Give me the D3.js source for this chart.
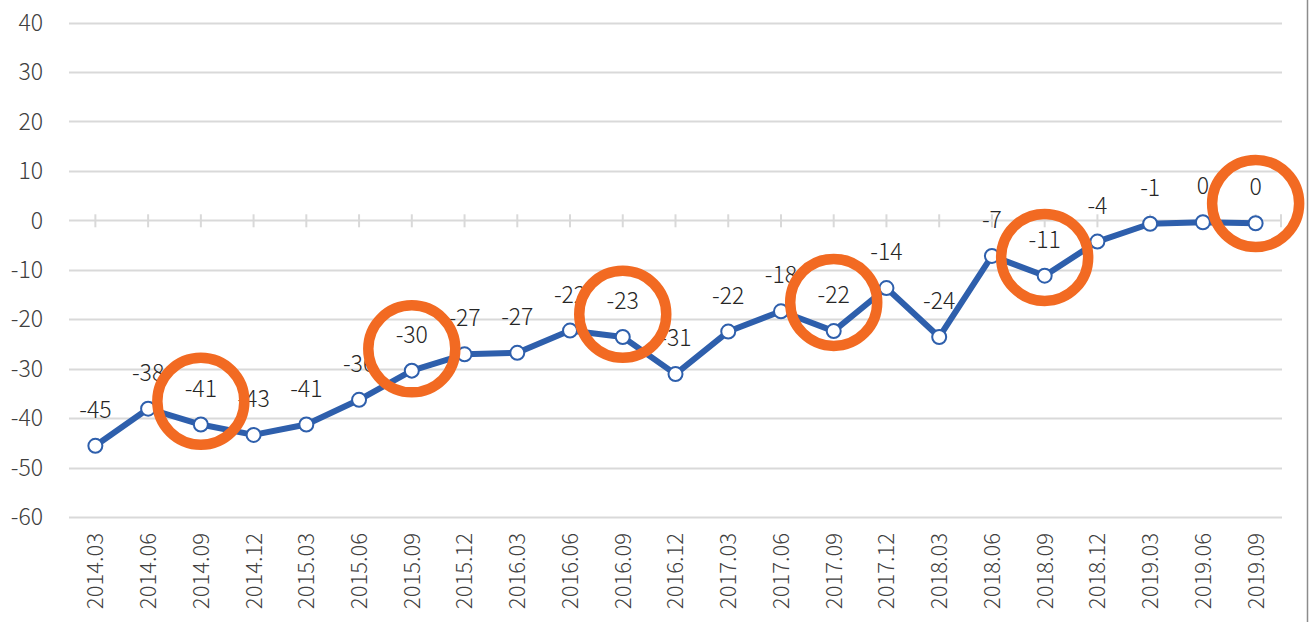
<!DOCTYPE html>
<html>
<head>
<meta charset="utf-8">
<script src="https://cdn.jsdelivr.net/npm/d3@7"></script>
<style>
  html, body { margin: 0; padding: 0; background: #fff; }
  svg { display: block; font-family: "Noto Sans CJK SC", "Noto Sans", sans-serif; font-weight: 300; }
</style>
</head>
<body>
<svg id="chart" width="1309" height="622"></svg>
<script>
// ---- data ----
const categories = ["2014.03","2014.06","2014.09","2014.12","2015.03","2015.06","2015.09","2015.12",
  "2016.03","2016.06","2016.09","2016.12","2017.03","2017.06","2017.09","2017.12",
  "2018.03","2018.06","2018.09","2018.12","2019.03","2019.06","2019.09"];
const values = [-45.6, -38.1, -41.3, -43.4, -41.3, -36.3, -30.4, -27.1, -26.8, -22.3, -23.6, -31.1,
  -22.5, -18.4, -22.4, -13.7, -23.6, -7.2, -11.2, -4.3, -0.7, -0.4, -0.6];
const labels = ["-45","-38","-41","-43","-41","-36","-30","-27","-27","-22","-23","-31",
  "-22","-18","-22","-14","-24","-7","-11","-4","-1","0","0"];
const yTicks = [40, 30, 20, 10, 0, -10, -20, -30, -40, -50, -60];
// highlighted quarters and circle centres (in value units)
const highlightCats = ["2014.09","2015.09","2016.09","2017.09","2018.09","2019.09"];
const highlightCenters = [-36.6, -26.0, -19.0, -16.6, -7.5, 3.4];

// ---- layout ----
const svg = d3.select("#chart");
const mLeft = 69, mRight = 1282, mTop = 22.5, mBottom = 517;

const x = d3.scaleBand().domain(categories).range([mLeft, mRight]).paddingInner(0).paddingOuter(0);
const cx = d => x(d) + x.bandwidth() / 2;
const y = d3.scaleLinear().domain([-60, 40]).range([mBottom, mTop]);

// gridlines
svg.append("g").selectAll("line").data(yTicks).join("line")
  .attr("x1", mLeft).attr("x2", mRight)
  .attr("y1", d => Math.round(y(d)) + 0.5).attr("y2", d => Math.round(y(d)) + 0.5)
  .attr("stroke", "#d9d9d9").attr("stroke-width", 2);

// y axis labels
svg.append("g").selectAll("text").data(yTicks).join("text")
  .attr("x", 43).attr("y", d => y(d))
  .attr("dy", "0.36em")
  .attr("text-anchor", "end")
  .attr("font-size", 23).attr("fill", "#404040")
  .text(d => d);

// zero-line tick marks at category centres + right end
const tickXs = categories.map(cx).concat([mRight - 1]);
svg.append("g").selectAll("line").data(tickXs).join("line")
  .attr("x1", d => d).attr("x2", d => d)
  .attr("y1", y(0) - 6).attr("y2", y(0) + 7)
  .attr("stroke", "#d9d9d9").attr("stroke-width", 2);

// x axis labels (rotated)
svg.append("g").selectAll("text").data(categories).join("text")
  .attr("transform", d => `translate(${cx(d)},${mBottom + 16}) rotate(-90)`)
  .attr("text-anchor", "end")
  .attr("dy", "0.36em")
  .attr("font-size", 22).attr("fill", "#404040")
  .text(d => d);

// line
const line = d3.line().x((d, i) => cx(categories[i])).y(d => y(d));
svg.append("path").datum(values)
  .attr("d", line).attr("fill", "none")
  .attr("stroke", "#2e5fac").attr("stroke-width", 6)
  .attr("stroke-linejoin", "round");

// markers
svg.append("g").selectAll("circle").data(values).join("circle")
  .attr("cx", (d, i) => cx(categories[i])).attr("cy", d => y(d))
  .attr("r", 7).attr("fill", "#fff")
  .attr("stroke", "#2e5fac").attr("stroke-width", 2);

// data labels
svg.append("g").selectAll("text").data(values).join("text")
  .attr("x", (d, i) => cx(categories[i])).attr("y", d => y(d) - 28)
  .attr("text-anchor", "middle")
  .attr("font-size", 23).attr("fill", "#262626")
  .text((d, i) => labels[i]);

// highlight circles
svg.append("g").selectAll("circle").data(highlightCats).join("circle")
  .attr("cx", d => cx(d)).attr("cy", (d, i) => y(highlightCenters[i]))
  .attr("r", 43.5).attr("fill", "none")
  .attr("stroke", "#f26a22").attr("stroke-width", 10.5);

// right border line
svg.append("line").attr("x1", 1307.5).attr("x2", 1307.5).attr("y1", 0).attr("y2", 622)
  .attr("stroke", "#8c8c8c").attr("stroke-width", 1.5);
</script>
</body>
</html>
